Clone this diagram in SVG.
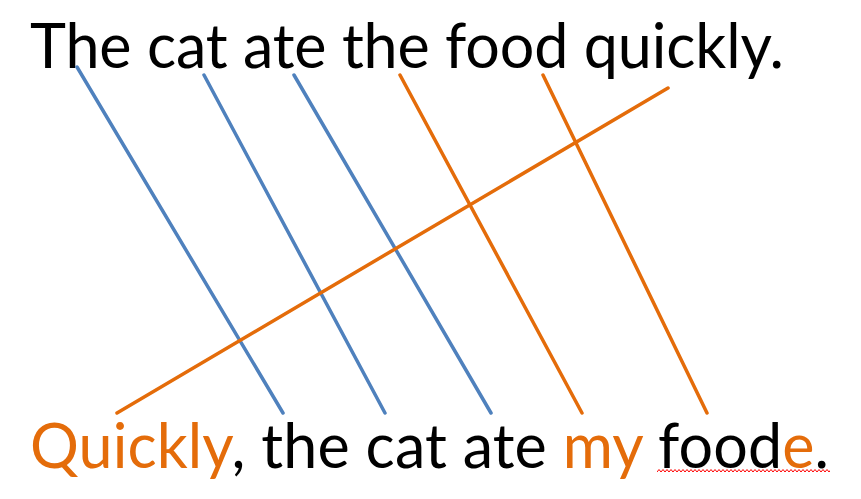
<svg xmlns="http://www.w3.org/2000/svg" width="861" height="499" viewBox="0 0 861 499">
<style>
.t{font-family:Lato,"Carlito","Liberation Sans",sans-serif;font-size:61px;fill:#000}
.o{fill:#E46C0A}
.b{stroke:#4F81BD;stroke-width:3.5;fill:none;stroke-linecap:round}
.r{stroke:#E46C0A;stroke-width:3.5;fill:none;stroke-linecap:round}
</style>
<defs>
<clipPath id="uc"><rect x="657" y="465" width="173" height="12"/></clipPath>
</defs>
<rect width="861" height="499" fill="#fff"/>
<g id="top-sentence"><text class="t" x="30" y="68" textLength="754" lengthAdjust="spacing">The cat ate the food quickly.</text></g>
<g id="bottom-sentence"><text class="t" x="30" y="468" textLength="799" lengthAdjust="spacing"><tspan class="o">Quickly</tspan>, the cat ate <tspan class="o">my</tspan> food<tspan class="o">e</tspan>.</text>
<path clip-path="url(#uc)" d="M657 472 l2 -2.5 l2 2.5 l2 -2.5 l2 2.5 l2 -2.5 l2 2.5 l2 -2.5 l2 2.5 l2 -2.5 l2 2.5 l2 -2.5 l2 2.5 l2 -2.5 l2 2.5 l2 -2.5 l2 2.5 l2 -2.5 l2 2.5 l2 -2.5 l2 2.5 l2 -2.5 l2 2.5 l2 -2.5 l2 2.5 l2 -2.5 l2 2.5 l2 -2.5 l2 2.5 l2 -2.5 l2 2.5 l2 -2.5 l2 2.5 l2 -2.5 l2 2.5 l2 -2.5 l2 2.5 l2 -2.5 l2 2.5 l2 -2.5 l2 2.5 l2 -2.5 l2 2.5 l2 -2.5 l2 2.5 l2 -2.5 l2 2.5 l2 -2.5 l2 2.5 l2 -2.5 l2 2.5 l2 -2.5 l2 2.5 l2 -2.5 l2 2.5 l2 -2.5 l2 2.5 l2 -2.5 l2 2.5 l2 -2.5 l2 2.5 l2 -2.5 l2 2.5 l2 -2.5 l2 2.5 l2 -2.5 l2 2.5 l2 -2.5 l2 2.5 l2 -2.5 l2 2.5 l2 -2.5 l2 2.5 l2 -2.5 l2 2.5 l2 -2.5 l2 2.5 l2 -2.5 l2 2.5 l2 -2.5 l2 2.5 l2 -2.5 l2 2.5 l2 -2.5 l2 2.5 l2 -2.5 l2 2.5 l2 -2.5 l2 2.5 l2 -2.5 l2 2.5 l2 -2.5 l2 2.5 l2 -2.5 l2 2.5 l2 -2.5 l2 2.5 l2 -2.5 l2 2.5 l2 -2.5 l2 2.5" stroke="#FF0000" stroke-width="1" fill="none"/></g>
<g id="connectors">
<line class="b" x1="77" y1="67" x2="283" y2="413"/>
<line class="b" x1="204" y1="75" x2="385" y2="413"/>
<line class="b" x1="294" y1="75" x2="491" y2="413"/>
<line class="r" x1="400" y1="75" x2="582" y2="413"/>
<line class="r" x1="543" y1="75" x2="707" y2="413"/>
<line class="r" x1="668" y1="88" x2="117" y2="413"/>
</g>
</svg>
